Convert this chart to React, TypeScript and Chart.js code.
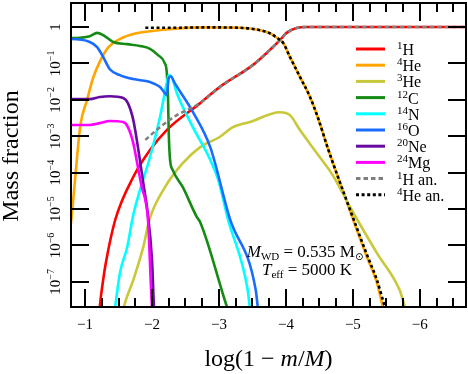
import React, { useEffect, useRef } from "react";
import { Chart, registerables } from "chart.js";

Chart.register(...registerables);

// axis ranges (log10 for y)
const X_LEFT = -0.79;
const X_RIGHT = -6.69;
const Y_LOG_MIN = -7.69;
const Y_LOG_MAX = 0.66;

const xMajorTicks = [-1, -2, -3, -4, -5, -6];
const xTickLabels = ["−1", "−2", "−3", "−4", "−5", "−6"];
const yDecades = [0, -1, -2, -3, -4, -5, -6, -7];

// 1H
const hX = [-1.2, -1.22, -1.27, -1.31, -1.45, -1.72, -1.97, -2.22, -2.72, -3.01, -3.51, -3.76, -3.91, -4.01, -4.16, -4.31, -5.0, -6.8];
const hLog = [-8.2, -7.69, -6.95, -6.48, -5.3, -4.12, -3.38, -2.83, -2.09, -1.65, -1.04, -0.63, -0.36, -0.16, -0.03, 0, 0, 0];
// 4He
const he4X = [-0.74, -0.8, -0.85, -0.93, -1.03, -1.12, -1.22, -1.35, -1.52, -1.75, -2.0, -2.31, -2.82, -3.3, -3.6, -3.76, -3.87, -3.96, -4.06, -4.21, -4.36, -4.48, -4.63, -4.91, -5.06, -5.21, -5.36, -5.45, -5.5];
const he4Log = [-6.2, -5.2, -4.2, -2.7, -2.0, -1.4, -0.95, -0.55, -0.33, -0.18, -0.11, -0.05, -0.01, -0.02, -0.08, -0.17, -0.3, -0.44, -0.82, -1.37, -1.92, -2.5, -3.35, -4.8, -5.58, -6.32, -7.03, -7.69, -7.95];
// 3He
const he3X = [-1.55, -1.58, -1.72, -1.87, -1.96, -2.19, -2.46, -2.72, -3.01, -3.21, -3.46, -3.91, -4.06, -4.21, -4.46, -4.7, -4.96, -5.36, -5.7, -5.78, -5.84];
const he3Log = [-8.0, -7.69, -6.95, -6.04, -5.3, -4.41, -3.74, -3.3, -3.02, -2.75, -2.61, -2.34, -2.42, -2.83, -3.46, -4.07, -4.95, -6.21, -7.23, -7.69, -7.9];
// 12C
const c12X = [-0.74, -0.81, -1.07, -1.18, -1.27, -1.42, -1.63, -1.82, -1.97, -2.09, -2.19, -2.22, -2.24, -2.25, -2.27, -2.31, -2.46, -2.67, -2.72, -3.12, -3.16];
const c12Log = [-0.3, -0.3, -0.25, -0.16, -0.22, -0.41, -0.47, -0.52, -0.6, -0.77, -0.99, -1.24, -2.0, -2.91, -3.65, -3.93, -4.4, -5.22, -5.36, -7.69, -7.9];
// 14N
const n14X = [-1.43, -1.45, -1.52, -1.63, -1.72, -1.82, -1.97, -2.12, -2.22, -2.25, -2.3, -2.37, -2.61, -2.87, -2.99, -3.13, -3.43, -3.46, -3.48];
const n14Log = [-8.0, -7.69, -6.76, -6.04, -5.16, -4.48, -3.57, -2.47, -1.54, -1.32, -1.4, -1.81, -2.75, -3.65, -4.2, -5.25, -7.23, -7.69, -7.9];
// 16O
const o16X = [-0.74, -0.79, -1.07, -1.18, -1.27, -1.37, -1.52, -1.72, -1.97, -2.12, -2.19, -2.22, -2.25, -2.28, -2.34, -2.61, -2.87, -3.16, -3.55, -3.58, -3.6];
const o16Log = [-0.33, -0.33, -0.41, -0.55, -0.82, -1.16, -1.32, -1.43, -1.51, -1.65, -1.81, -1.87, -1.4, -1.35, -1.54, -2.33, -3.3, -5.25, -7.23, -7.69, -7.9];
// 20Ne
const ne20X = [-0.74, -1.07, -1.22, -1.37, -1.57, -1.64, -1.72, -1.79, -1.87, -1.93, -2.0, -2.03, -2.05];
const ne20Log = [-1.98, -1.98, -1.92, -1.9, -1.95, -2.09, -2.55, -3.3, -4.29, -5.03, -6.4, -7.69, -7.95];
// 24Mg
const mg24X = [-0.74, -1.07, -1.22, -1.37, -1.57, -1.64, -1.72, -1.79, -1.85, -1.9, -1.94, -2.0, -2.02];
const mg24Log = [-2.69, -2.69, -2.64, -2.58, -2.61, -2.75, -3.19, -3.85, -4.42, -4.75, -5.3, -7.69, -7.95];
// 1H analytic
const hAnX = [-1.9, -2.12, -2.37, -2.57, -2.72, -3.01, -3.51, -3.76, -3.91, -4.01, -4.16, -4.31, -5.0, -6.8];
const hAnLog = [-3.1, -2.75, -2.42, -2.24, -2.09, -1.65, -1.04, -0.63, -0.36, -0.16, -0.03, 0, 0, 0];
// 4He analytic
const heAnX = [-1.9, -2.3, -2.82, -3.3, -3.6, -3.76, -3.87, -3.96, -4.06, -4.21, -4.36, -4.48, -4.63, -4.91, -5.06, -5.21, -5.36, -5.48, -5.53];
const heAnLog = [-0.02, -0.02, -0.01, -0.02, -0.08, -0.17, -0.3, -0.44, -0.82, -1.37, -1.92, -2.5, -3.35, -4.78, -5.52, -6.25, -6.95, -7.69, -7.95];

const seriesSup = ["1", "4", "3", "12", "14", "16", "20", "24", "1", "4"];
const seriesBase = ["H", "He", "He", "C", "N", "O", "Ne", "Mg", "H an.", "He an."];
const seriesColor = ["#ff0000", "#ffa500", "#c8c83a", "#148c14", "#00ffff", "#1a6cff", "#660aa0", "#ff00ff", "#808080", "#000000"];
const seriesDash: number[][] = [[], [], [], [], [], [], [], [], [4.5, 3], [3, 2.6]];
const seriesX = [hX, he4X, he3X, c12X, n14X, o16X, ne20X, mg24X, hAnX, heAnX];
const seriesLog = [hLog, he4Log, he3Log, c12Log, n14Log, o16Log, ne20Log, mg24Log, hAnLog, heAnLog];

const SERIF = '"Liberation Serif", "Times New Roman", serif';

type Part = { t: string; size: number; italic?: boolean; dy?: number; family?: string };

function richWidth(ctx: CanvasRenderingContext2D, parts: Part[]) {
  let w = 0;
  for (const p of parts) {
    ctx.font = `${p.italic ? "italic " : ""}${p.size}px ${p.family || SERIF}`;
    w += ctx.measureText(p.t).width;
  }
  return w;
}

function drawRich(ctx: CanvasRenderingContext2D, parts: Part[], x: number, y: number, align: "left" | "center") {
  let cx = align === "center" ? x - richWidth(ctx, parts) / 2 : x;
  ctx.textAlign = "left";
  ctx.textBaseline = "alphabetic";
  for (const p of parts) {
    ctx.font = `${p.italic ? "italic " : ""}${p.size}px ${p.family || SERIF}`;
    ctx.fillText(p.t, cx, y + (p.dy || 0));
    cx += ctx.measureText(p.t).width;
  }
}

const decorPlugin = {
  id: "decor",
  afterDraw(chart: any) {
    const { ctx, chartArea: a, scales } = chart;
    const xs = scales.x;
    const ys = scales.y;
    ctx.save();
    ctx.fillStyle = "#000";
    ctx.strokeStyle = "#000";
    ctx.setLineDash([]);
    ctx.lineWidth = 2;
    ctx.strokeRect(a.left, a.top, a.right - a.left, a.bottom - a.top);

    // x ticks (major + quarter minors), bottom and top
    ctx.lineWidth = 2;
    for (let i = 4; i <= 26; i++) {
      const v = -i / 4;
      const px = Math.round(xs.getPixelForValue(v));
      const len = i % 4 === 0 ? 18 : 9;
      ctx.beginPath();
      ctx.moveTo(px, a.bottom);
      ctx.lineTo(px, a.bottom - len);
      ctx.moveTo(px, a.top);
      ctx.lineTo(px, a.top + len);
      ctx.stroke();
    }
    // y ticks left and right
    for (const d of yDecades) {
      const py = Math.round(ys.getPixelForValue(Math.pow(10, d)));
      ctx.beginPath();
      ctx.moveTo(a.left, py);
      ctx.lineTo(a.left + 18, py);
      ctx.moveTo(a.right, py);
      ctx.lineTo(a.right - 18, py);
      ctx.stroke();
    }

    // x tick labels
    xMajorTicks.forEach((v, i) => {
      const px = xs.getPixelForValue(v);
      drawRich(ctx, [{ t: xTickLabels[i], size: 15 }], px, 329, "center");
    });

    // y tick labels (rotated)
    for (const d of yDecades) {
      const py = ys.getPixelForValue(Math.pow(10, d));
      ctx.save();
      ctx.translate(60, py);
      ctx.rotate(-Math.PI / 2);
      const parts: Part[] = d === 0 ? [{ t: "1", size: 15 }] : [{ t: "10", size: 15 }, { t: "−" + String(-d), size: 10, dy: -6 }];
      drawRich(ctx, parts, 0, 0, "center");
      ctx.restore();
    }

    // axis titles
    ctx.save();
    ctx.translate(18, (a.top + a.bottom) / 2 + 1);
    ctx.rotate(-Math.PI / 2);
    drawRich(ctx, [{ t: "Mass fraction", size: 24 }], 0, 0, "center");
    ctx.restore();
    drawRich(
      ctx,
      [
        { t: "log(1 − ", size: 24 },
        { t: "m", size: 24, italic: true },
        { t: "/", size: 24 },
        { t: "M", size: 24, italic: true },
        { t: ")", size: 24 },
      ],
      (a.left + a.right) / 2,
      366,
      "center"
    );

    // legend
    for (let i = 0; i < seriesBase.length; i++) {
      const ly = 49 + i * 16.2;
      ctx.save();
      ctx.strokeStyle = seriesColor[i];
      ctx.lineWidth = 3;
      ctx.setLineDash(seriesDash[i]);
      ctx.beginPath();
      ctx.moveTo(356, ly);
      ctx.lineTo(385, ly);
      ctx.stroke();
      ctx.restore();
      drawRich(ctx, [{ t: seriesSup[i], size: 11, dy: -6 }, { t: seriesBase[i], size: 16 }], 397, ly + 6, "left");
    }

    // annotation
    drawRich(
      ctx,
      [
        { t: "M", size: 17, italic: true },
        { t: "WD", size: 11, dy: 3 },
        { t: " = 0.535 M", size: 17 },
        { t: "⊙", size: 10, dy: 3, family: '"DejaVu Sans", sans-serif' },
      ],
      305,
      257,
      "center"
    );
    drawRich(
      ctx,
      [
        { t: "T", size: 17, italic: true },
        { t: "eff", size: 11, dy: 3 },
        { t: " = 5000 K", size: 17 },
      ],
      307,
      275,
      "center"
    );
    ctx.restore();
  },
};

export default function App() {
  const ref = useRef<HTMLCanvasElement | null>(null);
  useEffect(() => {
    document.body.style.margin = "0";
    const canvas = ref.current;
    if (!canvas) return;
    const n = seriesX.length;
    const datasets = seriesX.map((xsArr, i) => ({
      label: seriesSup[i] + seriesBase[i],
      data: xsArr.map((x, j) => ({ x, y: Math.pow(10, seriesLog[i][j]) })),
      borderColor: seriesColor[i],
      backgroundColor: seriesColor[i],
      borderWidth: 2.6,
      borderDash: seriesDash[i],
      pointRadius: 0,
      fill: false,
      cubicInterpolationMode: "monotone" as const,
      order: n - i,
      clip: 0,
    }));
    const chart = new Chart(canvas, {
      type: "line",
      data: { datasets },
      options: {
        animation: false,
        responsive: false,
        devicePixelRatio: 1,
        events: [],
        layout: { padding: { left: 71, right: 2, top: 3, bottom: 67 } },
        plugins: { legend: { display: false }, tooltip: { enabled: false } },
        scales: {
          x: { type: "linear", display: false, reverse: true, min: X_RIGHT, max: X_LEFT },
          y: { type: "logarithmic", display: false, min: Math.pow(10, Y_LOG_MIN), max: Math.pow(10, Y_LOG_MAX) },
        },
      },
      plugins: [decorPlugin],
    });
    return () => chart.destroy();
  }, []);
  return (
    <div style={{ width: 468, height: 374, background: "#fff" }}>
      <canvas ref={ref} width={468} height={374} style={{ display: "block" }} />
    </div>
  );
}
